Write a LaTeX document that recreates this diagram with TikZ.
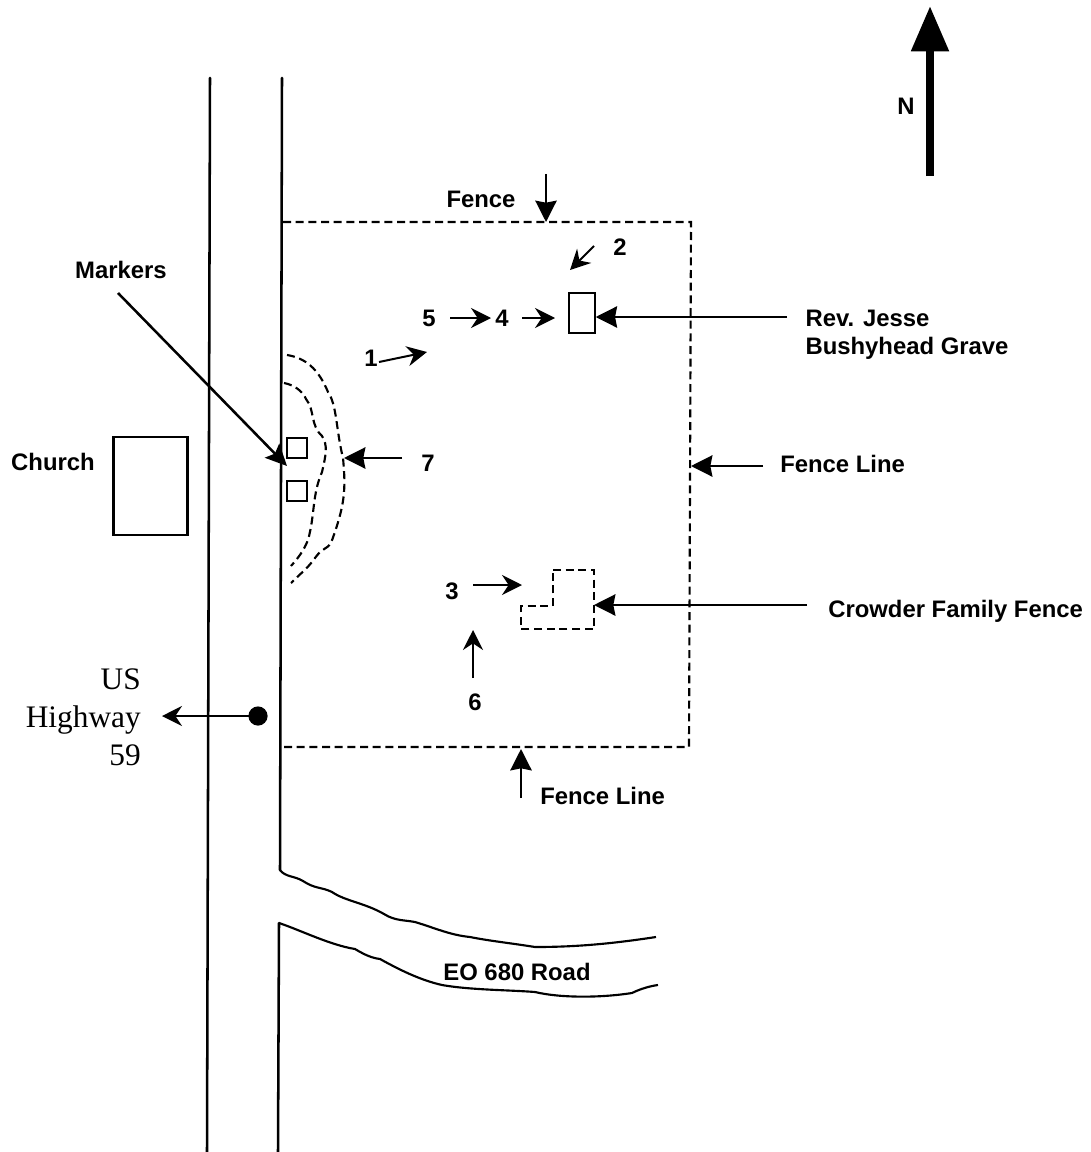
\documentclass[tikz,border=0pt]{standalone}
\usepackage{fontspec}
\setmainfont{Liberation Sans}
\newfontfamily\serifhw{Liberation Serif}
\usetikzlibrary{arrows.meta}
\tikzset{
  lab/.style={font=\fontsize{17.9}{21}\selectfont\bfseries,inner sep=0pt,align=left},
  road/.style={line width=1.9pt,line join=round,line cap=round},
  thin road/.style={line width=1.6pt,line join=round},
  fenceline/.style={line width=1.6pt,dash pattern=on 6pt off 3.5pt},
  box/.style={draw,line width=1.6pt,inner sep=0pt,minimum width=0pt},
  bigarrow/.style={line width=1.7pt,-{Stealth[length=16pt,width=16pt,inset=1.5pt]}},
  smallarrow/.style={line width=1.5pt,-{Stealth[length=15pt,width=15pt,inset=5pt]}},
}
\begin{document}
\begin{tikzpicture}[x=0.75pt,y=-0.75pt]
\useasboundingbox (0,0) rectangle (1091,1152);
% coordinates for roads
\coordinate (w1) at (210,78); \coordinate (w2) at (207,1152);
\coordinate (e1) at (282,78); \coordinate (e2) at (280,870);
\coordinate (e3) at (279,923); \coordinate (e4) at (278,1152);
\draw[road] (w1) -- (w2);
\draw[road] (e1) -- (e2);
\draw[road] (e3) -- (e4);
% EO 680 Road
\draw[thin road] (e2) .. controls (285,877) and (295,876) .. (303,881) .. controls (315,889) and (322,887) .. (332,892)
  .. controls (345,901) and (365,903) .. (384,914) .. controls (395,921) and (405,920) .. (415,922)
  .. controls (435,928) and (450,935) .. (470,937) .. controls (490,941) and (510,943) .. (535,947)
  .. controls (575,947) and (610,944) .. (656,937);
\draw[thin road] (e3) .. controls (300,930) and (330,945) .. (355,949) .. controls (365,955) and (372,958) .. (380,959)
  .. controls (400,970) and (420,980) .. (442,985) .. controls (470,990) and (510,990) .. (535,992)
  .. controls (560,998) and (600,998) .. (632,993) .. controls (640,989) and (650,986) .. (658,985);
\node[lab] (road) at (517,972) {EO 680 Road};
% fence
\coordinate (f1) at (283,222); \coordinate (f2) at (691,222);
\coordinate (f3) at (689,747); \coordinate (f4) at (283,747);
\draw[fenceline] (f1) -- (f2) -- (f3) -- (f4);
% north arrow
\coordinate (n1) at (930,176); \coordinate (n2) at (930,6);
\draw[line width=6.2pt,-{Stealth[length=34pt,width=27pt,inset=0pt]}] (n1) -- (n2);
\node[lab] (N) at (906,106) {N};
% labels
\node[lab] (fence) at (481,199) {Fence};
\coordinate (fa) at (546,174); \coordinate (fb) at (546,222);
\draw[bigarrow] (fa) -- (fb);
\node[lab] (two) at (620,247) {2};
\coordinate (a2) at (594,246); \coordinate (b2) at (570,270);
\draw[smallarrow] (a2) -- (b2);
\node[box,minimum width=19pt,minimum height=29.5pt] (grave) at (582,313) {};
\node[lab] (jesse) at (907,335) {Rev. Jesse\\Bushyhead Grave};
\coordinate (ga) at (787,317);
\draw[bigarrow] (ga) -- (grave.east |- ga);
\node[lab] (five) at (429,318) {5};
\node[lab] (four) at (502,318) {4};
\coordinate (a5) at (450,318); \coordinate (b5) at (491,318);
\coordinate (a4) at (522,318); \coordinate (b4) at (555,318);
\draw[smallarrow] (a5) -- (b5);
\draw[smallarrow] (a4) -- (b4);
\node[lab] (one) at (371,358) {1};
\coordinate (a1) at (379,362); \coordinate (b1) at (427,352);
\draw[smallarrow] (a1) -- (b1);
% markers
\node[lab] (markers) at (121,270) {Markers};
\coordinate (ma) at (118,293); \coordinate (mb) at (287,466);
\draw[line width=1.9pt,-{Stealth[length=16pt,width=15pt,inset=3pt]}] (ma) -- (mb);
\node[box,minimum width=15pt,minimum height=15pt] (m1) at (297,448) {};
\node[box,minimum width=15pt,minimum height=15pt] (m2) at (297,491) {};
% mound
\draw[fenceline] (287,355) .. controls (305,358) and (318,368) .. (328,392)
  .. controls (337,405) and (336,430) .. (343,458) .. controls (346,490) and (345,505) .. (331,543)
  .. controls (326,550) and (322,548) .. (315,558) .. controls (308,568) and (300,574) .. (291,583);
\draw[fenceline] (284,383) .. controls (295,385) and (303,392) .. (306,399)
  .. controls (315,410) and (310,425) .. (322,436) .. controls (328,445) and (326,455) .. (322,472)
  .. controls (312,495) and (315,515) .. (308,540) .. controls (303,552) and (298,558) .. (291,566);
\node[lab] (seven) at (428,463) {7};
\coordinate (a7) at (402,458); \coordinate (b7) at (344,458);
\draw[bigarrow] (a7) -- (b7);
% church
\node[lab] (church) at (53,462) {Church};
\node[box,minimum width=55.5pt,minimum height=73pt] (churchbox) at (150.5,486) {};
% right labels
\node[lab,anchor=west] (fl) at (780,464) {Fence Line};
\coordinate (afl) at (763,466); \coordinate (bfl) at (691,466);
\draw[bigarrow] (afl) -- (bfl);
\node[lab,anchor=west] (cf) at (828,611) {Crowder Family Fence};
\coordinate (acf) at (807,605); \coordinate (bcf) at (594,605);
\draw[bigarrow] (acf) -- (bcf);
% crowder plot
\draw[fenceline,line join=miter] (553,570) -- (594,570) -- (594,629) -- (521,629) -- (521,606) -- (553,606) -- cycle;
\node[lab] (three) at (452,591) {3};
\coordinate (a3) at (473,585); \coordinate (b3) at (522,585);
\draw[smallarrow] (a3) -- (b3);
\node[lab] (six) at (475,702) {6};
\coordinate (a6) at (473,678); \coordinate (b6) at (473,630);
\draw[smallarrow] (a6) -- (b6);
\coordinate (afb) at (521,798); \coordinate (bfb) at (521,749);
\draw[bigarrow] (afb) -- (bfb);
\node[lab,anchor=west] (flb) at (540,796) {Fence Line};
% highway
\node[font=\serifhw\fontsize{23.5}{28.5}\selectfont,align=right,inner sep=0pt,anchor=east] (hw) at (141,717) {US\\Highway\\59};
\fill (258,716) circle[radius=7.2pt] coordinate (dot);
\coordinate (ah) at (258,716); \coordinate (bh) at (162,716);
\draw[smallarrow] (ah) -- (bh);
\end{tikzpicture}
\end{document}
